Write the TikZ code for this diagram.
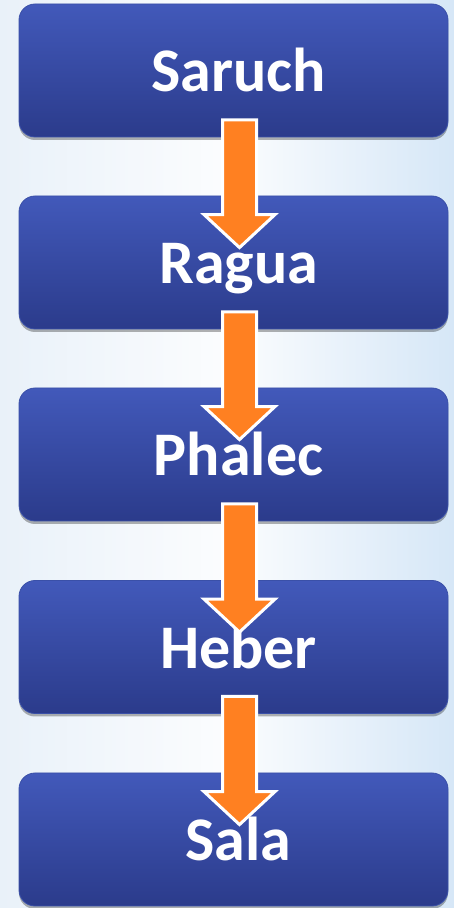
\documentclass[tikz,border=0pt]{standalone}
\usepackage{fontspec}
\setmainfont{Carlito}
\usetikzlibrary{calc,shadows}
\definecolor{boxtop}{HTML}{4259BA}
\definecolor{boxbot}{HTML}{2B3B8B}
\definecolor{boxedge}{HTML}{3A50A8}
\definecolor{arrowor}{HTML}{FF8021}
\definecolor{bgleft}{HTML}{E9F1F9}
\definecolor{bgright}{HTML}{D6E7F7}
\tikzset{
  stepbox/.style={rounded corners=16pt, minimum width=429pt, minimum height=133pt,
    inner sep=0pt, draw=boxedge, line width=0.8pt, top color=boxtop, bottom color=boxbot,
    drop shadow={shadow xshift=0pt, shadow yshift=-3pt, opacity=0.3, fill=black}},
  steptext/.style={anchor=base, text=white, font=\bfseries\fontsize{62}{70}\selectfont, inner sep=0pt},
  blockarrow/.style={fill=arrowor, draw=white, line width=3pt, line join=miter},
}
\newcommand{\stepitem}[3]{%
  \node[stepbox] (#1) at (233.5pt,#2) {};
  \node[steptext] (#1t) at ($(#1.center)+(5pt,-21.5pt)$) {#3};
}
\newcommand{\steparrow}[2]{%
  \draw[blockarrow] let \p1=(#1.south), \p2=(#2.north) in
    (\x1-11pt,\y1+17.5pt) -- (\x1+23pt,\y1+17.5pt) -- (\x1+23pt,\y2-19pt)
    -- (\x1+41.5pt,\y2-19pt) -- (\x1+6pt,\y2-52pt) -- (\x1-29.5pt,\y2-19pt)
    -- (\x1-11pt,\y2-19pt) -- cycle;
}
\begin{document}
\begin{tikzpicture}[x=1pt,y=1pt]
\useasboundingbox (0,0) rectangle (454,908);
\shade[left color=bgleft, right color=bgright, middle color=white!85!bgleft] (0,0) rectangle (454,908);
\stepitem{b1}{837.5pt}{Saruch}
\stepitem{b2}{645.5pt}{Ragua}
\stepitem{b3}{453.5pt}{Phalec}
\stepitem{b4}{261pt}{Heber}
\stepitem{b5}{68.5pt}{Sala}
\steparrow{b1}{b2}
\steparrow{b2}{b3}
\steparrow{b3}{b4}
\steparrow{b4}{b5}
\end{tikzpicture}
\end{document}
